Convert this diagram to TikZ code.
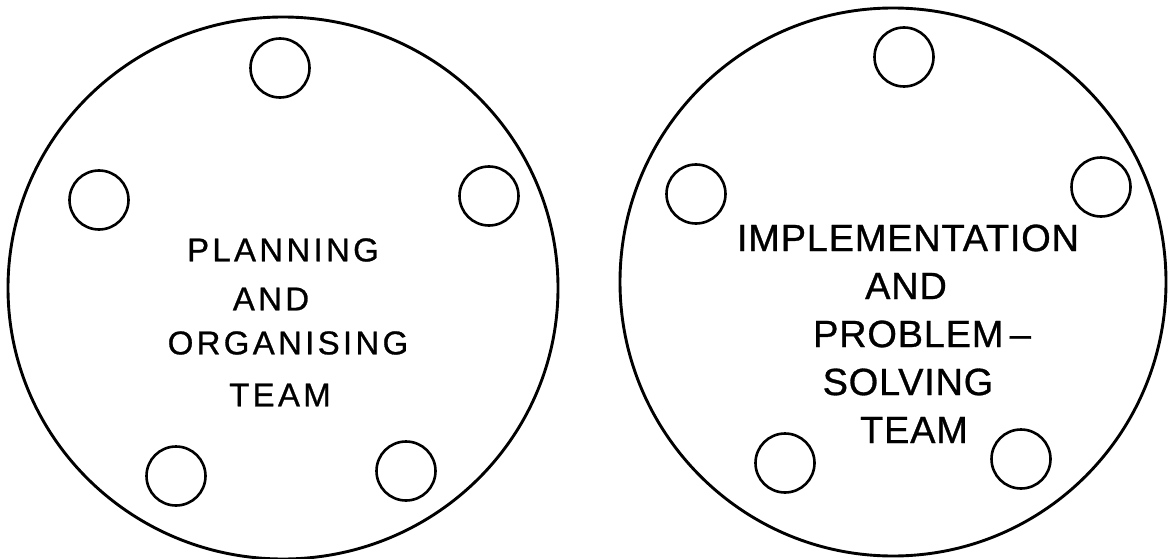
\documentclass[tikz,border=0pt]{standalone}
\usepackage{fontspec}
\setmainfont{Liberation Sans}
\newfontfamily\leftlbl{Liberation Sans}[LetterSpace=10,FakeBold=0.8]
\newfontfamily\rightlbl{Liberation Sans}[LetterSpace=2,FakeBold=0.8]
\begin{document}
\begin{tikzpicture}[x=1pt,y=-1pt,
  team/.style={line width=2.9pt},
  member/.style={draw,circle,line width=2.6pt,minimum size=59pt,inner sep=0pt},
  lbl/.style={inner sep=0pt,anchor=center},
  lbll/.style={lbl,font=\leftlbl\fontsize{33}{36}\selectfont},
  lblr/.style={lbl,font=\rightlbl\fontsize{38}{40}\selectfont}]
\useasboundingbox (0,0) rectangle (1169,559);
\fill[white] (0,0) rectangle (1169,559);
% left team
\draw[team] (283,288) ellipse [x radius=275, y radius=271];
\node[member] (l1) at (280,68) {};
\node[member] (l2) at (99,200) {};
\node[member] (l3) at (489,196) {};
\node[member] (l4) at (176,476) {};
\node[member] (l5) at (406,471) {};
\node[lbll] (lt1) at (283,250) {PLANNING};
\node[lbll] (lt2) at (271,299) {AND};
\node[lbll] (lt3) at (288,343) {ORGANISING};
\node[lbll] (lt4) at (280,395) {TEAM};
% right team
\draw[team] (893,282) ellipse [x radius=273, y radius=274];
\node[member] (r1) at (904,57) {};
\node[member] (r2) at (696,194) {};
\node[member] (r3) at (1101,187) {};
\node[member] (r4) at (785,463) {};
\node[member] (r5) at (1021,459) {};
\node[lblr] (rt1) at (908,238) {IMPLEMENTATION};
\node[lblr] (rt2) at (906,286) {AND};
\node[lblr] (rt3) at (922,334) {PROBLEM\,–};
\node[lblr] (rt4) at (908,382) {SOLVING};
\node[lblr] (rt5) at (914,430) {TEAM};
\end{tikzpicture}
\end{document}
